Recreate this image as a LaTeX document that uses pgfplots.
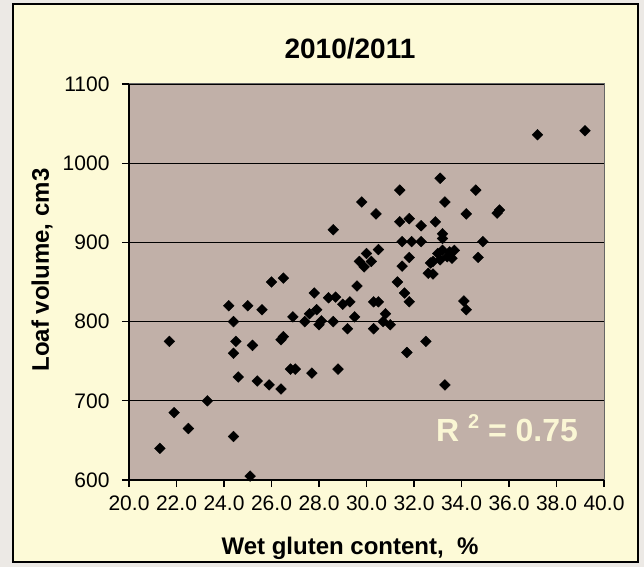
\documentclass[border=0pt]{standalone}
\usepackage{pgfplots}
\pgfplotsset{compat=1.18}
\usepackage{fontspec}
\setmainfont{Liberation Sans}
\definecolor{outerbg}{RGB}{236,233,229}
\definecolor{boxbg}{RGB}{253,250,215}
\definecolor{plotbg}{RGB}{193,176,168}
\definecolor{rtext}{RGB}{250,246,212}
\begin{document}
\begin{tikzpicture}[x=1pt,y=1pt]
\fill[outerbg] (-129,-87) rectangle (515,480);
\fill[boxbg] (-116,-82) rectangle (509,476);
\draw[black, line width=1.3pt] (-116,-82) rectangle (509,476);
\begin{axis}[
  at={(0pt,0pt)}, anchor=south west,
  scale only axis, width=475pt, height=396pt,
  xmin=20, xmax=40, ymin=600, ymax=1100,
  axis x line*=bottom, axis y line*=left,
  axis line style={-, black, line width=1.3pt},
  axis background/.style={fill=plotbg},
  xtick={20,22,...,40}, ytick={600,700,...,1100},
  tick align=outside, major tick length=7pt,
  tick style={black, line width=1.1pt},
  ymajorgrids, grid style={black, line width=1.2pt},
  /pgf/number format/assume math mode=true,
  xticklabel style={font=\fontsize{21}{24}\selectfont, yshift=-5pt, /pgf/number format/.cd, fixed, fixed zerofill, precision=1},
  yticklabel style={font=\fontsize{21}{24}\selectfont, xshift=-9pt, /pgf/number format/1000 sep={}},
  clip=false,
]
\draw[gray!80!black, line width=1pt] (rel axis cs:0,1) -- (rel axis cs:1,1) -- (rel axis cs:1,0);
\addplot[only marks, mark=square*, mark size=3.8pt, mark options={rotate=45, fill=black, draw=black}] table {
x y
21.3 640
21.7 775
21.9 685
22.5 665
23.3 700
24.2 820
24.4 800
24.5 775
24.4 760
24.4 655
24.6 730
25.0 820
25.2 770
25.1 605
25.4 725
25.6 815
25.9 720
26.0 850
26.5 855
26.4 715
26.4 777
26.5 781
26.8 740
27.0 740
26.9 806
27.4 800
27.6 810
27.9 815
27.7 735
27.8 836
28.0 796
28.1 801
28.4 830
28.6 800
28.6 916
28.7 831
28.8 740
29.0 822
29.2 791
29.3 825
29.5 806
29.6 845
29.7 876
29.8 951
29.9 869
30.0 886
30.2 876
30.3 825
30.3 791
30.4 936
30.5 891
30.5 825
30.7 800
30.8 810
31.0 796
31.3 850
31.4 966
31.4 926
31.5 901
31.5 870
31.6 836
31.7 761
31.8 930
31.8 881
31.8 825
31.9 901
32.3 921
32.3 901
32.5 775
32.6 861
32.7 874
32.8 860
32.8 876
32.9 926
33.0 886
33.1 981
33.1 878
33.2 890
33.2 911
33.2 905
33.3 951
33.3 720
33.4 882
33.5 888
33.6 880
33.7 890
34.1 826
34.2 815
34.2 936
34.6 966
34.7 881
34.9 901
35.5 937
35.6 941
37.2 1036
39.2 1041
};
\end{axis}
\node[font=\fontsize{28}{32}\selectfont\bfseries] at (221,431) {2010/2011};
\node[font=\fontsize{24}{28}\selectfont\bfseries] at (221,-68) {Wet gluten content,\ \ \%};
\node[font=\fontsize{24}{28}\selectfont\bfseries, rotate=90] at (-87,210) {Loaf volume, cm3};
\node[font=\fontsize{32}{36}\selectfont\bfseries, text=rtext] at (378,52) {R \raisebox{0.42em}{\fontsize{20}{22}\selectfont 2} = 0.75};
\pgfresetboundingbox
\useasboundingbox (-129,-87) rectangle (515,480);
\end{tikzpicture}
\end{document}
